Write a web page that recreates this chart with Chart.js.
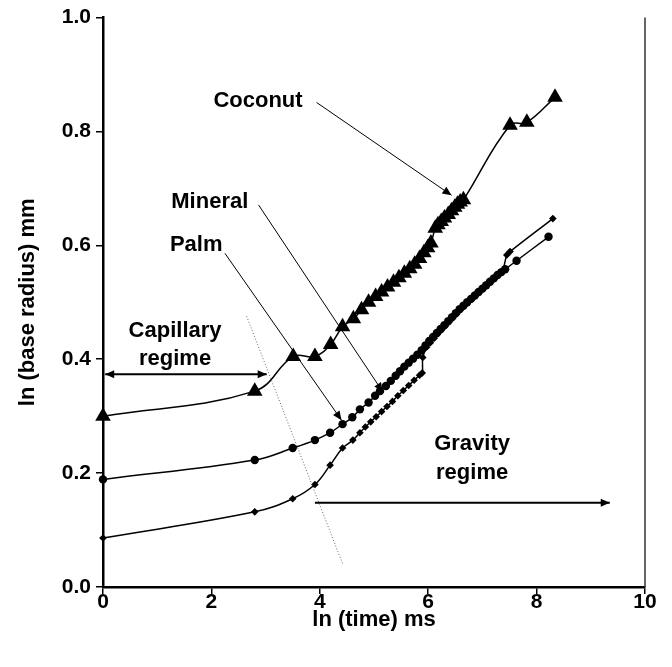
<!DOCTYPE html>
<html>
<head>
<meta charset="utf-8">
<script src="https://cdn.jsdelivr.net/npm/chart.js@4.4.1/dist/chart.umd.min.js"></script>
<style>
html,body{margin:0;padding:0;background:#fff;}
#wrap{width:672px;height:667px;}
</style>
</head>
<body>
<div id="wrap"><canvas id="c" width="672" height="667"></canvas></div>
<script>
// ---- data ----
const coconutX = [0, 2.80, 3.51, 3.91, 4.20, 4.42, 4.62, 4.77, 4.90, 5.03, 5.14, 5.25, 5.36, 5.46, 5.56, 5.66, 5.75, 5.84, 5.92, 5.99, 6.05, 6.13, 6.18, 6.24, 6.30, 6.37, 6.43, 6.49, 6.54, 6.59, 6.65, 7.51, 7.82, 8.34];
const coconutY = [0.300, 0.344, 0.405, 0.405, 0.426, 0.457, 0.471, 0.487, 0.500, 0.510, 0.518, 0.527, 0.535, 0.543, 0.551, 0.559, 0.567, 0.577, 0.587, 0.596, 0.604, 0.630, 0.636, 0.642, 0.648, 0.654, 0.661, 0.667, 0.672, 0.676, 0.680, 0.811, 0.816, 0.860];

const palmX = [0, 2.80, 3.50, 3.91, 4.19, 4.42, 4.60, 4.74, 4.90, 5.02, 5.11, 5.22, 5.31, 5.40, 5.48, 5.56, 5.64, 5.72, 5.80, 5.88, 5.95, 6.02, 6.09, 6.16, 6.23, 6.30, 6.37, 6.44, 6.51, 6.58, 6.65, 6.72, 6.79, 6.86, 6.93, 7.00, 7.07, 7.14, 7.21, 7.28, 7.35, 7.42, 7.63, 8.22];
const palmY = [0.189, 0.223, 0.244, 0.258, 0.271, 0.286, 0.298, 0.312, 0.324, 0.336, 0.344, 0.353, 0.362, 0.371, 0.379, 0.387, 0.394, 0.401, 0.408, 0.416, 0.424, 0.432, 0.439, 0.446, 0.453, 0.460, 0.467, 0.474, 0.481, 0.488, 0.494, 0.500, 0.506, 0.512, 0.518, 0.524, 0.530, 0.536, 0.542, 0.548, 0.553, 0.558, 0.573, 0.615];

const mineralX = [0, 2.80, 3.50, 3.91, 4.19, 4.42, 4.61, 4.74, 4.84, 4.94, 5.04, 5.14, 5.24, 5.34, 5.44, 5.54, 5.64, 5.74, 5.84, 5.89, 5.90, 5.97, 6.04, 6.11, 6.18, 6.25, 6.32, 6.39, 6.46, 6.53, 6.60, 6.67, 6.74, 6.81, 6.88, 6.95, 7.02, 7.09, 7.16, 7.23, 7.30, 7.37, 7.45, 7.51, 8.30];
const mineralY = [0.086, 0.132, 0.155, 0.180, 0.214, 0.244, 0.258, 0.271, 0.281, 0.290, 0.299, 0.308, 0.317, 0.326, 0.336, 0.345, 0.354, 0.363, 0.372, 0.376, 0.403, 0.421, 0.429, 0.437, 0.445, 0.452, 0.459, 0.466, 0.473, 0.480, 0.487, 0.494, 0.500, 0.506, 0.512, 0.518, 0.524, 0.530, 0.536, 0.542, 0.548, 0.554, 0.583, 0.589, 0.647];

const xTicks = [0, 2, 4, 6, 8, 10];
const yTicks = [0.0, 0.2, 0.4, 0.6, 0.8, 1.0];
const xTitle = 'ln (time) ms';
const yTitle = 'ln (base radius) mm';

// annotation texts (data coordinates)
const labels = [
  {text: 'Coconut', x: 2.86, y: 0.853},
  {text: 'Mineral', x: 1.97, y: 0.677},
  {text: 'Palm', x: 1.72, y: 0.601},
  {text: 'Capillary', x: 1.33, y: 0.449},
  {text: 'regime', x: 1.33, y: 0.401},
  {text: 'Gravity', x: 6.81, y: 0.251},
  {text: 'regime', x: 6.81, y: 0.200}
];
// pointer lines: [x1,y1,x2,y2, headAtStart, headAtEnd]
const pointers = [
  [3.94, 0.851, 6.43, 0.688, false, true],
  [2.87, 0.671, 5.16, 0.343, false, true],
  [2.25, 0.586, 4.40, 0.293, false, true],
  [0.04, 0.3736, 3.02, 0.3736, true, true],
  [3.91, 0.148, 9.35, 0.148, false, true]
];
const dottedLine = [2.65, 0.4755, 4.43, 0.0385];

const toPts = (xs, ys) => xs.map((x, i) => ({x: x, y: ys[i]}));

const FONT = '"Liberation Sans", Arial, sans-serif';

function arrowHead(ctx, x1, y1, x2, y2) {
  const a = Math.atan2(y2 - y1, x2 - x1);
  const L = 9, W = 4;
  ctx.beginPath();
  ctx.moveTo(x2, y2);
  ctx.lineTo(x2 - L * Math.cos(a) + W * Math.sin(a), y2 - L * Math.sin(a) - W * Math.cos(a));
  ctx.lineTo(x2 - L * Math.cos(a) - W * Math.sin(a), y2 - L * Math.sin(a) + W * Math.cos(a));
  ctx.closePath();
  ctx.fill();
}

const annot = {
  id: 'annot',
  afterDatasetsDraw(chart) {
    const ctx = chart.ctx, xs = chart.scales.x, ys = chart.scales.y, ca = chart.chartArea;
    ctx.save();
    // right border
    ctx.strokeStyle = '#333';
    ctx.lineWidth = 1.5;
    ctx.beginPath();
    ctx.moveTo(ca.right, ca.top);
    ctx.lineTo(ca.right, ca.bottom);
    ctx.stroke();
    // dotted line
    ctx.strokeStyle = '#666';
    ctx.lineWidth = 1;
    ctx.setLineDash([1, 2]);
    ctx.beginPath();
    ctx.moveTo(xs.getPixelForValue(dottedLine[0]), ys.getPixelForValue(dottedLine[1]));
    ctx.lineTo(xs.getPixelForValue(dottedLine[2]), ys.getPixelForValue(dottedLine[3]));
    ctx.stroke();
    ctx.setLineDash([]);
    // pointers
    ctx.strokeStyle = '#000';
    ctx.fillStyle = '#000';
    pointers.forEach(p => {
      const x1 = xs.getPixelForValue(p[0]), y1 = ys.getPixelForValue(p[1]);
      const x2 = xs.getPixelForValue(p[2]), y2 = ys.getPixelForValue(p[3]);
      const horiz = Math.abs(y1 - y2) < 0.5;
      ctx.lineWidth = horiz ? 2 : 1;
      ctx.beginPath();
      ctx.moveTo(x1, y1);
      ctx.lineTo(x2, y2);
      ctx.stroke();
      if (p[5]) arrowHead(ctx, x1, y1, x2, y2);
      if (p[4]) arrowHead(ctx, x2, y2, x1, y1);
    });
    // texts
    ctx.font = 'bold 22px ' + FONT;
    ctx.textAlign = 'center';
    ctx.textBaseline = 'middle';
    labels.forEach(l => {
      ctx.fillText(l.text, xs.getPixelForValue(l.x), ys.getPixelForValue(l.y));
    });
    ctx.restore();
  }
};

const common = {
  borderColor: '#000',
  backgroundColor: '#000',
  pointBackgroundColor: '#000',
  pointBorderColor: '#000',
  borderWidth: 1.5,
  tension: 0.4,
  fill: false,
  clip: false
};

new Chart(document.getElementById('c'), {
  type: 'line',
  data: {
    datasets: [
      Object.assign({label: 'Coconut', data: toPts(coconutX, coconutY), pointStyle: 'triangle', pointRadius: 9, pointBorderWidth: 0}, common),
      Object.assign({label: 'Palm', data: toPts(palmX, palmY), pointStyle: 'circle', pointRadius: 4.2, pointBorderWidth: 0}, common),
      Object.assign({label: 'Mineral', data: toPts(mineralX, mineralY), pointStyle: 'rectRot', pointRadius: 3.8, pointBorderWidth: 0}, common)
    ]
  },
  options: {
    responsive: false,
    devicePixelRatio: 1,
    animation: false,
    layout: {padding: {top: 15, right: 27, left: 0, bottom: 0}},
    plugins: {legend: {display: false}, tooltip: {enabled: false}},
    scales: {
      x: {
        type: 'linear',
        min: 0, max: 10,
        afterBuildTicks: s => { s.ticks = xTicks.map(v => ({value: v})); },
        afterFit: s => { s.height = 80; },
        ticks: {color: '#000', font: {family: FONT, size: 21, weight: 'bold'}, padding: -4, maxRotation: 0,
          callback: v => String(v)},
        grid: {drawOnChartArea: false, drawTicks: true, tickLength: 7, color: '#000', lineWidth: 1.5},
        border: {display: true, color: '#000', width: 2.5},
        title: {display: true, text: xTitle, color: '#000', font: {family: FONT, size: 22, weight: 'bold'}, padding: {top: 0, bottom: 34}}
      },
      y: {
        type: 'linear',
        min: 0, max: 1,
        afterBuildTicks: s => { s.ticks = yTicks.map(v => ({value: v})); },
        afterFit: s => { s.width = 103; },
        ticks: {color: '#000', font: {family: FONT, size: 21, weight: 'bold'}, padding: 5,
          callback: v => Number(v).toFixed(1)},
        grid: {drawOnChartArea: false, drawTicks: true, tickLength: 7, color: '#000', lineWidth: 1.5},
        border: {display: true, color: '#000', width: 2.5},
        title: {display: true, text: yTitle, color: '#000', font: {family: FONT, size: 22, weight: 'bold'}, padding: {top: 15, bottom: 0}}
      }
    }
  },
  plugins: [annot]
});
</script>
</body>
</html>
